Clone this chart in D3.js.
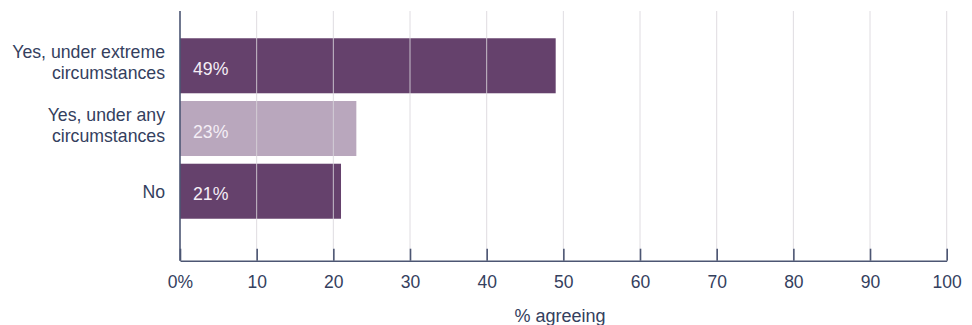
<!DOCTYPE html>
<html>
<head>
<meta charset="utf-8">
<script src="https://cdn.jsdelivr.net/npm/d3@7"></script>
<style>
  html, body { margin: 0; padding: 0; background: #ffffff; }
  svg { display: block; font-family: "Liberation Sans", Arial, sans-serif; }
</style>
</head>
<body>
<svg id="chart" width="972" height="325"></svg>
<script>
// Survey responses
const categories = [
  ["Yes, under extreme", "circumstances"],
  ["Yes, under any", "circumstances"],
  ["No"]
];
const values = [49, 23, 21];
const barColors = ["#65416c", "#b9a7bd", "#65416c"];
const tickValues = [0, 10, 20, 30, 40, 50, 60, 70, 80, 90, 100];
const axisTitle = "% agreeing";

const svg = d3.select("#chart");
const inkColor = "#34405e";
const axisColor = "#4c5673";

const x = d3.scaleLinear().domain([0, 100]).range([180, 946.7]);
const y = d3.scaleBand()
  .domain(d3.range(categories.length))
  .range([34.5, 222.5])
  .paddingInner(0.123)
  .paddingOuter(0.06);

const plotTop = 11;
const axisY = 260.7;

// bars
svg.append("g").selectAll("rect")
  .data(values)
  .join("rect")
  .attr("x", x(0))
  .attr("y", (d, i) => y(i))
  .attr("width", d => x(d) - x(0))
  .attr("height", y.bandwidth())
  .attr("fill", (d, i) => barColors[i]);

// vertical gridlines, drawn over the bars
svg.append("g").selectAll("line")
  .data(tickValues.slice(1))
  .join("line")
  .attr("x1", d => x(d)).attr("x2", d => x(d))
  .attr("y1", plotTop).attr("y2", axisY)
  .attr("stroke", "#d9d6dc")
  .attr("stroke-opacity", 0.85)
  .attr("stroke-width", 1);

// bottom axis with inward ticks
const xAxis = d3.axisBottom(x)
  .tickValues(tickValues)
  .tickSize(0)
  .tickFormat(d => d === 0 ? "0%" : d);
const gx = svg.append("g")
  .attr("transform", `translate(0,${axisY})`)
  .call(xAxis);
gx.select(".domain").attr("stroke", axisColor).attr("stroke-width", 1.6);
gx.selectAll(".tick line").remove();
gx.selectAll(".tick")
  .append("line")
  .attr("y1", 0).attr("y2", -12)
  .attr("stroke", axisColor)
  .attr("stroke-width", 1.6);
gx.selectAll(".tick text")
  .attr("y", 22)
  .attr("dy", "0.32em")
  .attr("fill", inkColor)
  .style("font-size", "17.5px");
gx.attr("font-family", null);

// left axis line
svg.append("line")
  .attr("x1", x(0)).attr("x2", x(0))
  .attr("y1", plotTop).attr("y2", axisY)
  .attr("stroke", axisColor)
  .attr("stroke-width", 1.6);

// category labels
const lineH = 21;
svg.append("g").selectAll("text")
  .data(categories)
  .join("text")
  .attr("text-anchor", "end")
  .attr("fill", inkColor)
  .style("font-size", "17.7px")
  .each(function (lines, i) {
    const cy = y(i) + y.bandwidth() / 2 - (lines.length > 1 ? 3 : -1);
    const t = d3.select(this);
    lines.forEach((ln, k) => {
      t.append("tspan")
        .attr("x", 165)
        .attr("y", cy + (k - (lines.length - 1) / 2) * lineH)
        .attr("dy", "0.35em")
        .text(ln);
    });
  });

// value labels inside bars
svg.append("g").selectAll("text")
  .data(values)
  .join("text")
  .attr("x", x(0) + 13)
  .attr("y", (d, i) => y(i) + y.bandwidth() / 2 + 3)
  .attr("dy", "0.35em")
  .attr("fill", "#f4eef6")
  .style("font-size", "17.7px")
  .text(d => d + "%");

// axis title
svg.append("text")
  .attr("x", 560)
  .attr("y", 316)
  .attr("dy", "0.35em")
  .attr("text-anchor", "middle")
  .attr("fill", inkColor)
  .style("font-size", "18px")
  .text(axisTitle);
</script>
</body>
</html>
